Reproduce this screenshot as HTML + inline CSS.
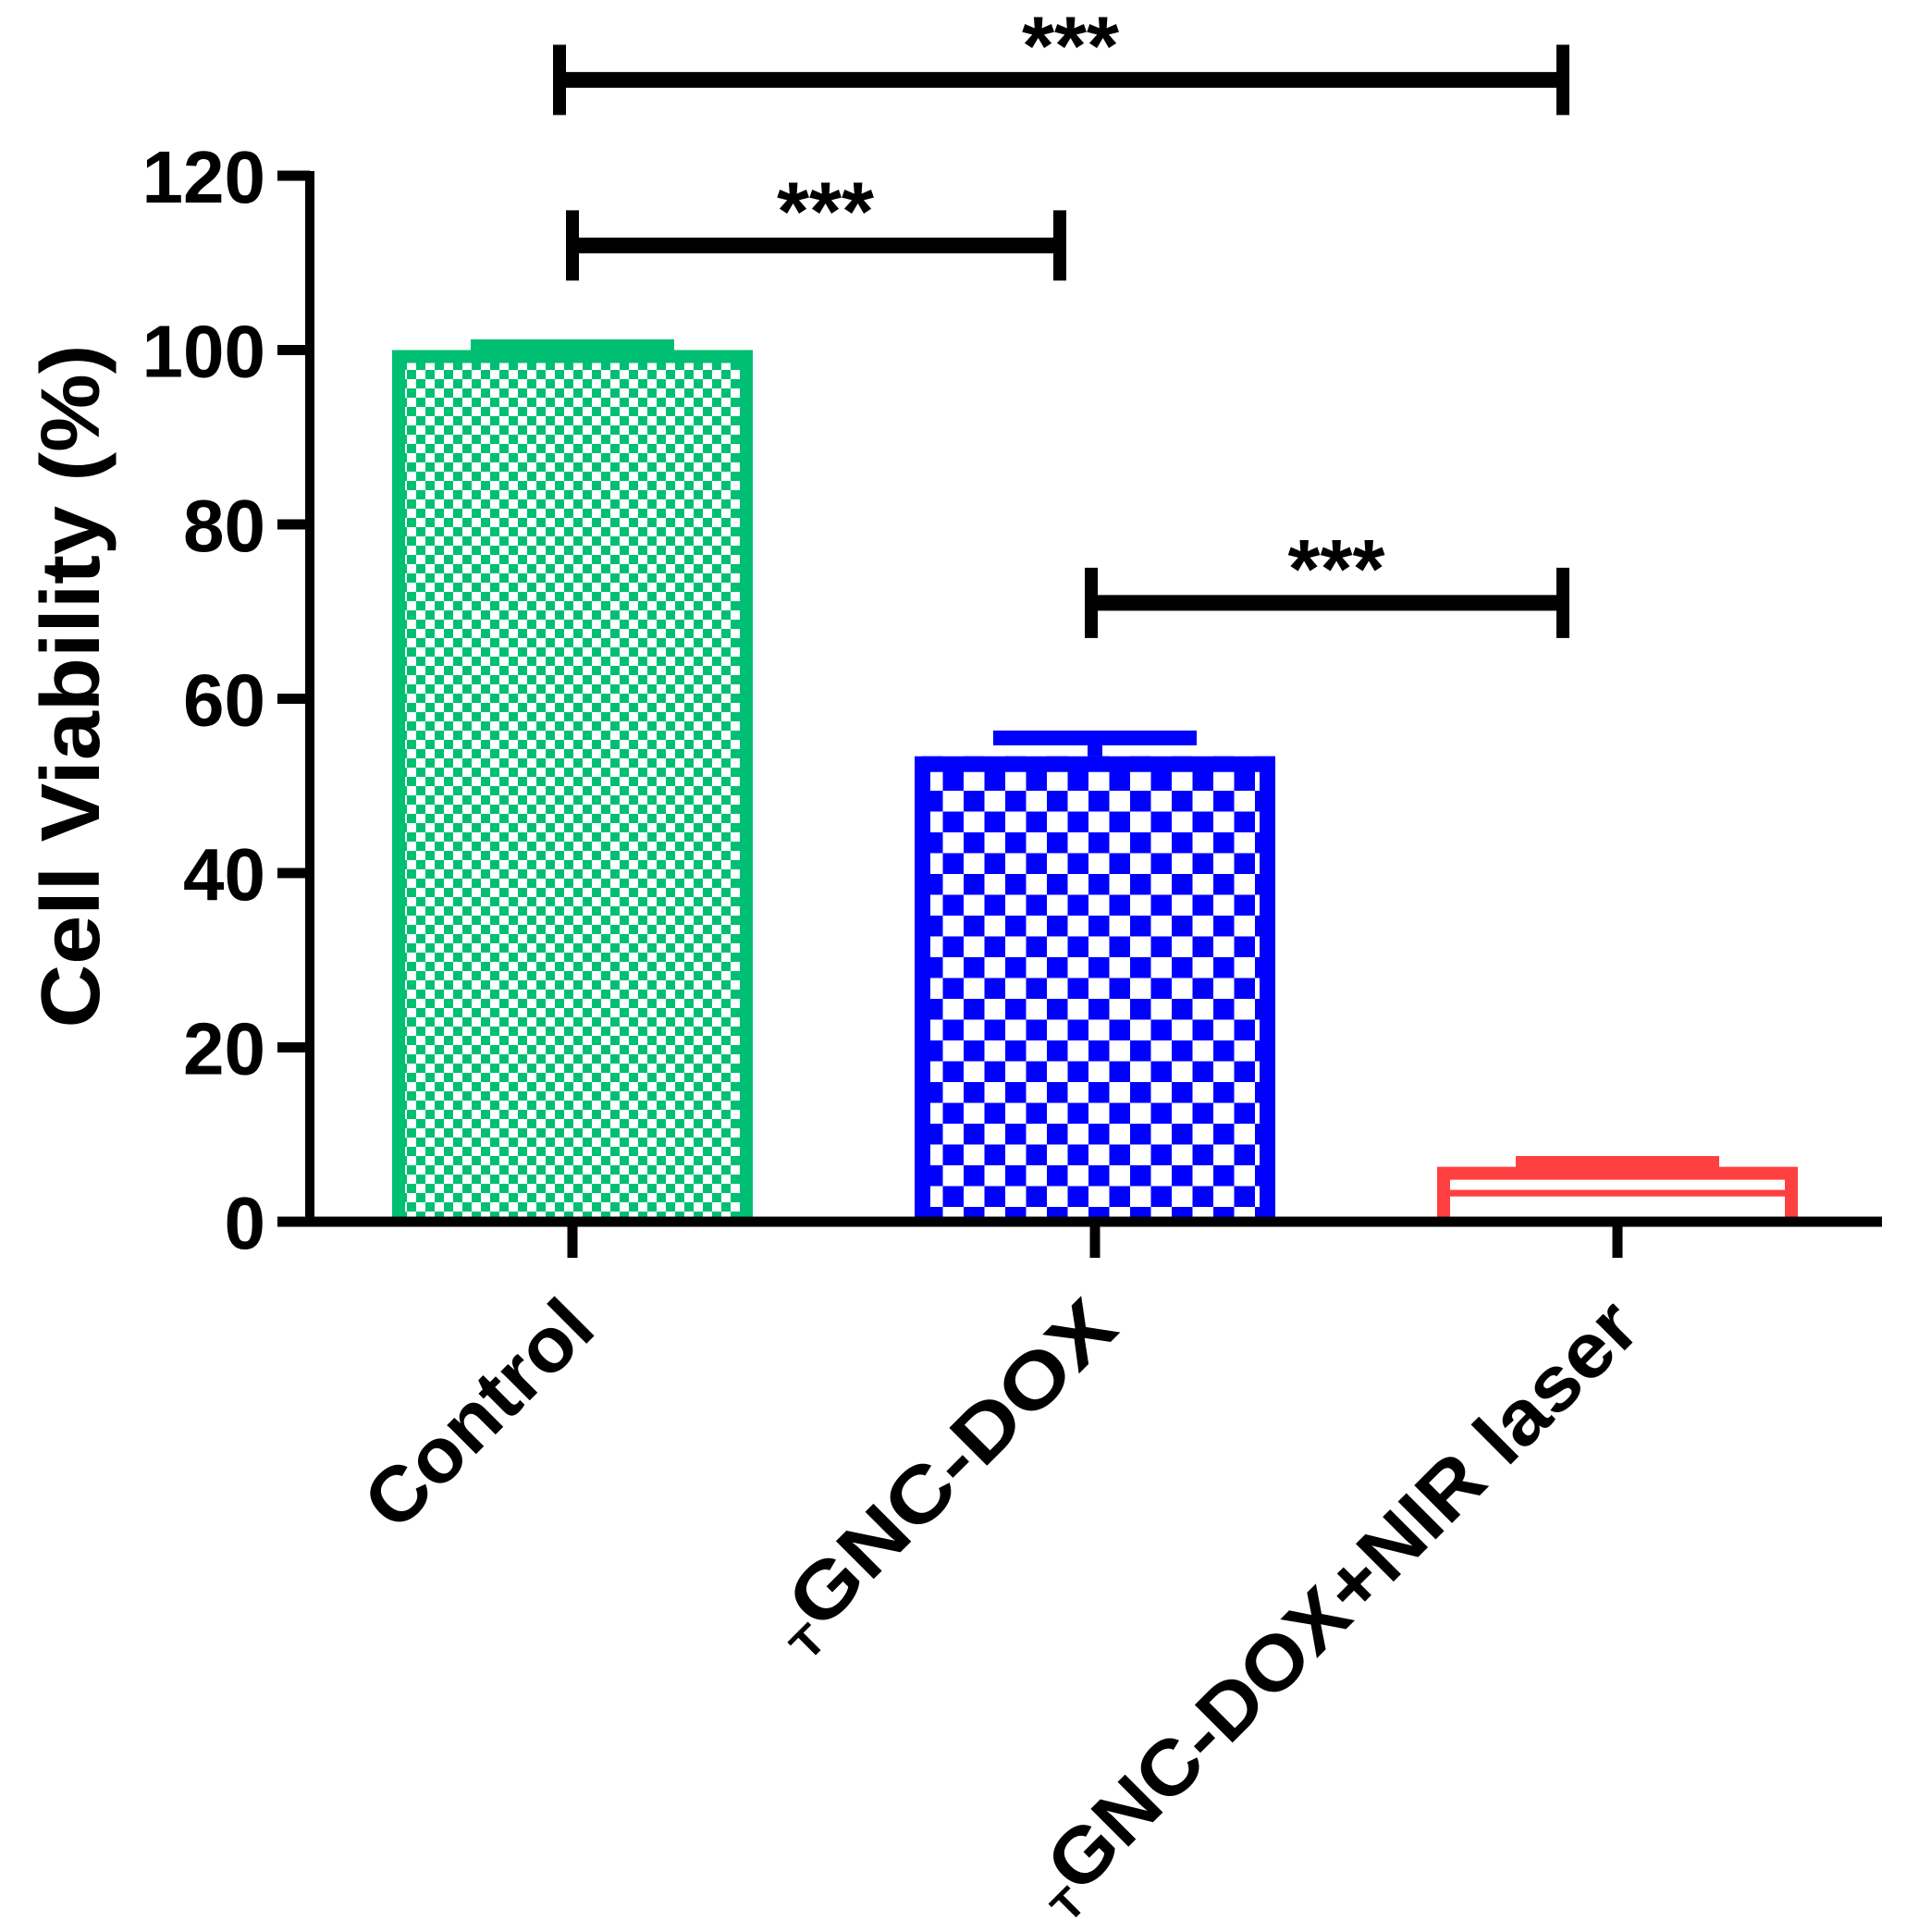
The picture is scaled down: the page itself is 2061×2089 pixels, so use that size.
<!DOCTYPE html>
<html><head><meta charset="utf-8"><style>
html,body{margin:0;padding:0;background:#fff;}
svg{display:block;}
text{font-family:"Liberation Sans",Arial,sans-serif;font-weight:bold;fill:#000;}
</style></head><body>
<svg id="chart" width="2061" height="2089" viewBox="0 0 2061 2089" xmlns="http://www.w3.org/2000/svg">
<defs>
<pattern id="pGreen" patternUnits="userSpaceOnUse" width="20" height="20" x="0" y="0">
<rect width="20" height="20" fill="#fff"/><rect width="10" height="10" fill="#00bf72"/><rect x="10" y="10" width="10" height="10" fill="#00bf72"/>
</pattern>
<pattern id="pBlue" patternUnits="userSpaceOnUse" width="45" height="45" x="7" y="0">
<rect width="45" height="45" fill="#fff"/><rect width="22.5" height="22.5" fill="#0000ff"/><rect x="22.5" y="22.5" width="22.5" height="22.5" fill="#0000ff"/>
</pattern>
</defs>
<g id="plot"></g>
</svg>
<script>
const categories = ["Control", "GNC-DOX", "GNC-DOX+NIR laser"];
const values = [100, 53.4, 6.3];
const errors = [0.6, 2.1, 0.6];
const yTicks = [0, 20, 40, 60, 80, 100, 120];
const sigPairs = [[0, 2], [0, 1], [1, 2]];
const sigHeights = [131, 112, 71];
const sigLabels = ["***", "***", "***"];

const NS = "http://www.w3.org/2000/svg";
const g = document.getElementById('plot');
const X0 = 335, Y0 = 1321, Y120 = 190;
function yScale(v){ return Y0 - (v/120)*(Y0-Y120); }
function xScale(i){ return 619 + i*565; }
const BW = 390;
function mk(tag, attrs, parent){
  const e = document.createElementNS(NS, tag);
  for (const k in attrs) e.setAttribute(k, attrs[k]);
  (parent||g).appendChild(e); return e;
}
const fills = ["url(#pGreen)", "url(#pBlue)", "#fff"];
const strokes = ["#00bf72", "#0000ff", "#ff4040"];

// bars
categories.forEach((c, i) => {
  const cx = xScale(i), top = yScale(values[i]);
  const sw = i===1 ? 17 : 14;
  const bg = mk('g', {});
  
  
  mk('rect', {x: cx-BW/2, y: top, width: BW, height: Math.max(0, Y0-top), fill: fills[i]}, bg);
  const l = cx-BW/2+sw/2, r = cx+BW/2-sw/2, t = top+sw/2;
  mk('path', {d: `M${l} ${Y0} L${l} ${t} L${r} ${t} L${r} ${Y0}`, fill: 'none', stroke: strokes[i], 'stroke-width': sw}, bg);
  if (i === 2) {
    const h = Y0 - top;
    mk('rect', {x: cx-BW/2, y: top + h*0.42, width: BW, height: Math.max(4, h*0.12), fill: strokes[i]}, bg);
  }
  // error bar
  const et = yScale(values[i] + errors[i]);
  const eb = mk('g', {}, g);
  
  
  const ew = i===1 ? 16 : 12;
  mk('line', {x1: cx, x2: cx, y1: et, y2: top, stroke: strokes[i], 'stroke-width': 16}, eb);
  mk('line', {x1: cx-110, x2: cx+110, y1: et, y2: et, stroke: strokes[i], 'stroke-width': ew}, eb);
});

// axes
const ax = mk('g', {});


mk('line', {x1: X0, x2: X0, y1: Y120-5, y2: Y0+5, stroke: '#000', 'stroke-width': 10}, ax);
yTicks.forEach(t => {
  const y = yScale(t);
  mk('line', {x1: 300, x2: X0, y1: y, y2: y, stroke: '#000', 'stroke-width': 11}, ax);
  const tx = mk('text', {x: 287, y: y+29, 'font-size': 80, 'text-anchor': 'end'}, ax);
  
  
  tx.textContent = t;
});
const xa = mk('g', {});


mk('line', {x1: 300, x2: 2035, y1: Y0, y2: Y0, stroke: '#000', 'stroke-width': 11}, xa);
const labelLens = [309, 493, 893];
categories.forEach((c, i) => {
  const cx = xScale(i);
  mk('line', {x1: cx, x2: cx, y1: Y0, y2: 1360, stroke: '#000', 'stroke-width': 11}, xa);
  const ax2 = cx + 28, ay = 1440;
  const t = mk('text', {x: ax2, y: ay, 'font-size': 84, 'text-anchor': 'end', transform: `rotate(-45 ${ax2} ${ay})`, textLength: labelLens[i], lengthAdjust: 'spacingAndGlyphs'}, xa);
  
  
  if (i > 0) {
    const s = mk('tspan', {'font-size': 46, dy: 14}, t); s.textContent = 'T';
    const m = mk('tspan', {dy: -14}, t); m.textContent = c;
  } else t.textContent = c;
});

// y title
const yt = mk('text', {x: 0, y: 0, 'font-size': 90, 'text-anchor': 'middle', transform: 'translate(107 742) rotate(-90)', textLength: 739, lengthAdjust: 'spacingAndGlyphs'});


yt.textContent = 'Cell Viability (%)';

// significance brackets
sigPairs.forEach((p, k) => {
  const x1 = xScale(p[0]) - (k===0 ? 14 : 0), x2 = xScale(p[1]) - (p[1]===2 ? 59 : 0) + (k===1 ? -38 : 0);
  const xl = k===2 ? xScale(p[0]) - 4 : x1;
  const y = yScale(sigHeights[k]);
  const sg = mk('g', {});
  
  
  mk('line', {x1: xl, x2: x2, y1: y, y2: y, stroke: '#000', 'stroke-width': 17}, sg);
  mk('line', {x1: xl, x2: xl, y1: y-38, y2: y+38, stroke: '#000', 'stroke-width': 14}, sg);
  mk('line', {x1: x2, x2: x2, y1: y-38, y2: y+38, stroke: '#000', 'stroke-width': 14}, sg);
  const st = mk('text', {x: (xl+x2)/2 + 10, y: y - 6, 'font-size': 90, 'text-anchor': 'middle'}, sg);
  
  
  st.textContent = sigLabels[k];
});
</script>
</body></html>
